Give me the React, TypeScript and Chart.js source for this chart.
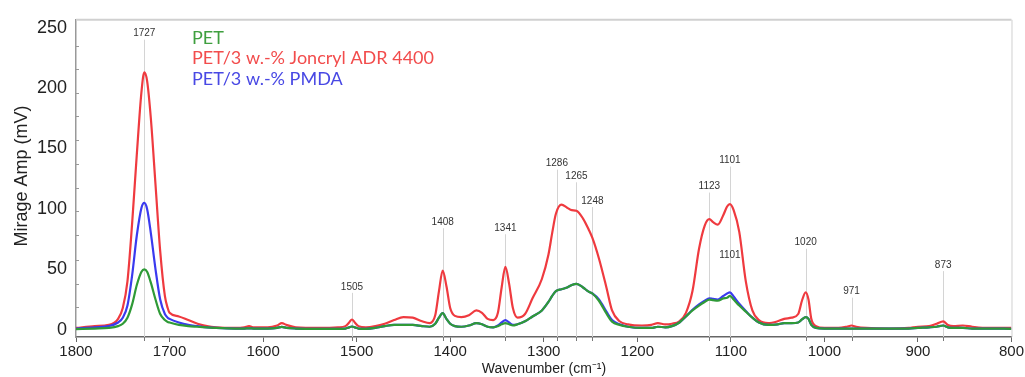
import React, { useEffect, useRef } from "react";
import { Chart, registerables } from "chart.js";

Chart.register(...registerables);

// Wavenumber sample positions (cm-1), shared by all three spectra
const wavenumbers = [
  1800, 1780, 1765, 1755, 1750, 1745, 1740, 1735, 1730, 1727,
  1724, 1720, 1715, 1710, 1705, 1702, 1700, 1690, 1680, 1670,
  1660, 1650, 1630, 1620, 1615, 1610, 1595, 1585, 1580, 1575,
  1565, 1540, 1520, 1512, 1508, 1505, 1502, 1498, 1490, 1480,
  1470, 1460, 1450, 1440, 1430, 1422, 1416, 1412, 1408, 1404,
  1400, 1395, 1388, 1380, 1372, 1366, 1360, 1354, 1349, 1345,
  1341, 1337, 1333, 1328, 1320, 1312, 1302, 1295, 1291, 1287,
  1281, 1275, 1270, 1265, 1258, 1252, 1248, 1241, 1233, 1227,
  1219, 1210, 1195, 1185, 1178, 1170, 1163, 1155, 1148, 1141,
  1134, 1128, 1123, 1119, 1114, 1108, 1104, 1101, 1097, 1091,
  1084, 1077, 1070, 1060, 1050, 1043, 1035, 1028, 1024, 1020,
  1017, 1014, 1009, 1000, 985, 976, 971, 966, 955, 930,
  910, 900, 888, 880, 873, 868, 862, 852, 842, 825,
  800,
];

// PET (green)
const petValues = [
  0.5, 1, 1.5, 3, 5, 10, 21, 37, 48, 50,
  48, 39, 25, 13, 8, 6.5, 6, 4, 3, 2.5,
  2, 1.5, 1, 1, 1.2, 1, 1, 1.5, 2.4, 1.5,
  1, 0.8, 0.8, 1, 2, 2.7, 2, 1, 0.8, 1.5,
  3, 4, 4, 4, 3, 2.5, 5, 10, 13.7, 9,
  5, 3, 2.5, 3.5, 5.5, 4.5, 2.5, 2, 3, 4.5,
  5.5, 4.5, 3.5, 4.5, 7, 11, 16, 23, 28, 32,
  33.5, 35, 37, 38, 35, 31.5, 30, 24, 13.5, 6.7,
  4, 2.5, 1.5, 1.5, 2.5, 2, 3, 6, 11, 16,
  20, 23, 25, 24.5, 24, 26, 26.5, 28, 25, 20,
  15, 10, 6, 4, 4.5, 5.5, 5.5, 6, 8.5, 10.5,
  9, 4, 1.5, 1, 1, 1, 1, 1, 1, 1,
  1, 1.5, 2, 2.5, 3.5, 2, 1.5, 1.5, 1, 1,
  0.8,
];

// PET/3 w.-% Joncryl ADR 4400 (red)
const joncrylValues = [
  1.5, 3, 4, 9, 18, 40, 88, 145, 197, 213,
  206, 175, 120, 65, 28, 18, 14, 11, 8, 5,
  3, 2, 1.5, 2, 3, 2, 2, 3.5, 5.5, 4,
  2, 1.5, 2, 3, 6, 8.5, 6, 3, 2, 3,
  5, 8, 10.5, 10, 7, 5.5, 12, 32, 49, 36,
  18, 11.5, 10.5, 12, 16, 14, 9, 8, 14, 35,
  52, 38, 18, 10, 13, 26, 42, 62, 80, 96,
  103.5, 101, 99, 98.5, 92, 83, 76, 59, 35, 16,
  7, 4.5, 3.5, 4, 5.5, 4.5, 5, 7, 14, 32,
  67, 86, 91.5, 89, 87, 95, 102, 104, 99, 81,
  40, 16, 8, 5.5, 7, 9, 10, 13, 24, 31,
  25, 9, 3, 1.5, 1.5, 2.5, 3.5, 2.5, 1.5, 1,
  1.5, 2.5, 3, 5, 7, 4, 3, 3.5, 2.5, 1.5,
  1.5,
];

// PET/3 w.-% PMDA (blue)
const pmdaValues = [
  1, 2, 3, 6, 10, 20, 45, 78, 101, 105,
  100, 80, 50, 25, 13, 10, 9, 6, 4, 3,
  2, 1.5, 1, 1, 1.2, 1, 1, 1.5, 2.4, 1.5,
  1, 0.8, 0.8, 1, 2, 2.7, 2, 1, 0.8, 1.5,
  3, 4, 4, 4, 3, 2.5, 5, 10, 13.7, 9,
  5, 3, 2.5, 3.5, 5.5, 4.5, 2.5, 2, 3.5, 6,
  8, 6, 4, 4.5, 7, 11, 16, 23, 28, 32,
  33.5, 35, 37, 38, 35, 31.5, 30, 25, 15, 8,
  4.5, 2.5, 1.5, 1.5, 2.5, 2, 3, 6, 11, 16.5,
  21, 24, 26, 25.5, 25, 28, 30, 31, 27.5, 21.5,
  15.5, 10, 6, 4, 4.5, 5.5, 5.5, 6, 8.5, 10.5,
  9, 4, 1.5, 1, 1, 1, 1, 1, 1, 1,
  1, 1.5, 2, 2.5, 3.5, 2, 1.5, 1.5, 1, 1,
  0.8,
];

const seriesNames = ["PET", "PET/3 w.-% Joncryl ADR 4400", "PET/3 w.-% PMDA"];
const xTickValues = [1800, 1700, 1600, 1500, 1400, 1300, 1200, 1100, 1000, 900, 800];
const yTickValues = [0, 50, 100, 150, 200, 250];
const yMinorTicks = [18.5, 38, 58, 78, 98, 117.5, 137, 157, 176.5, 196, 215.5, 235];

// Peak annotations: wavenumber and the level (mV) where the label sits
const peakPositions = [1727, 1505, 1408, 1341, 1286, 1265, 1248, 1123, 1101, 1101, 1020, 971, 873];
const peakLabels = ["1727", "1505", "1408", "1341", "1286", "1265", "1248", "1123", "1101", "1101", "1020", "971", "873"];
const peakLabelLevels = [245, 35.5, 89, 84, 137.5, 127, 106.5, 118.5, 140, 61.5, 72, 31.5, 53.5];

const xTitle = "Wavenumber (cm\u207B\u00B9)";
const yTitle = "Mirage Amp (mV)";

const GREEN = "#2f9a37";
const RED = "#ef3a3f";
const BLUE = "#3a3aef";
const LEGEND_COLORS = ["#3f9f3f", "#f24c4c", "#4848e4"];

const decorPlugin = {
  id: "decor",
  beforeDatasetsDraw(chart: any) {
    const { ctx, chartArea: a, scales } = chart;
    const x = scales.x;
    const y = scales.y;
    ctx.save();
    ctx.strokeStyle = "#d4d4d4";
    ctx.lineWidth = 1;
    peakPositions.forEach((w, i) => {
      const px = Math.round(x.getPixelForValue(w)) + 0.5;
      const top = y.getPixelForValue(peakLabelLevels[i]) + 6;
      ctx.beginPath();
      ctx.moveTo(px, top);
      ctx.lineTo(px, a.bottom);
      ctx.stroke();
    });
    ctx.restore();
  },
  afterDraw(chart: any) {
    const { ctx, chartArea: a, scales } = chart;
    const x = scales.x;
    const y = scales.y;
    ctx.save();
    // frame top and right
    ctx.strokeStyle = "#d0d0d0";
    ctx.lineWidth = 2;
    ctx.beginPath();
    ctx.moveTo(a.left, a.top);
    ctx.lineTo(a.right, a.top);
    ctx.stroke();
    ctx.lineWidth = 1;
    ctx.beginPath();
    ctx.moveTo(a.right + 0.5, a.top);
    ctx.lineTo(a.right + 0.5, a.bottom);
    ctx.stroke();
    // minor y ticks (inward)
    ctx.strokeStyle = "#999";
    yMinorTicks.forEach((v) => {
      const py = Math.round(y.getPixelForValue(v)) + 0.5;
      ctx.beginPath();
      ctx.moveTo(a.left, py);
      ctx.lineTo(a.left + 3, py);
      ctx.stroke();
    });
    // small ticks below axis at peaks
    ctx.strokeStyle = "#777";
    peakPositions.forEach((w) => {
      const px = Math.round(x.getPixelForValue(w)) + 0.5;
      ctx.beginPath();
      ctx.moveTo(px, a.bottom);
      ctx.lineTo(px, a.bottom + 4);
      ctx.stroke();
    });
    // peak labels
    ctx.fillStyle = "#333";
    ctx.font = "10px 'Liberation Sans', Arial, sans-serif";
    ctx.textAlign = "center";
    ctx.textBaseline = "middle";
    peakPositions.forEach((w, i) => {
      ctx.fillText(peakLabels[i], x.getPixelForValue(w), y.getPixelForValue(peakLabelLevels[i]));
    });
    // legend text
    ctx.textAlign = "left";
    ctx.font = "18px Lato, 'Open Sans', sans-serif";
    seriesNames.forEach((n, i) => {
      ctx.fillStyle = LEGEND_COLORS[i];
      ctx.fillText(n, 192, 38 + i * 20.5);
    });
    // axis titles
    ctx.fillStyle = "#222";
    ctx.font = "14px 'Liberation Sans', Arial, sans-serif";
    ctx.textAlign = "center";
    ctx.fillText(xTitle, 544, 369);
    ctx.translate(22, 176);
    ctx.rotate(-Math.PI / 2);
    ctx.font = "18px 'Liberation Sans', Arial, sans-serif";
    ctx.fillText(yTitle, 0, 0);
    ctx.restore();
  },
};

export default function App() {
  const ref = useRef<HTMLCanvasElement>(null);
  useEffect(() => {
    document.body.style.margin = "0";
    const canvas = ref.current;
    if (!canvas) return;
    const mk = (vals: number[]) => wavenumbers.map((w, i) => ({ x: w, y: vals[i] }));
    const chart = new Chart(canvas, {
      type: "line",
      data: {
        datasets: [
          { label: seriesNames[0], data: mk(petValues), borderColor: GREEN, borderWidth: 2.2, pointRadius: 0, cubicInterpolationMode: "monotone", fill: false },
          { label: seriesNames[2], data: mk(pmdaValues), borderColor: BLUE, borderWidth: 2.2, pointRadius: 0, cubicInterpolationMode: "monotone", fill: false },
          { label: seriesNames[1], data: mk(joncrylValues), borderColor: RED, borderWidth: 2.2, pointRadius: 0, cubicInterpolationMode: "monotone", fill: false },
        ],
      },
      options: {
        responsive: false,
        animation: false,
        events: [],
        layout: { padding: { top: 14, right: 12, left: 0, bottom: 0 } },
        plugins: { legend: { display: false }, tooltip: { enabled: false } },
        scales: {
          x: {
            type: "linear",
            reverse: true,
            min: 800,
            max: 1800,
            afterBuildTicks: (s: any) => {
              s.ticks = xTickValues.map((v) => ({ value: v }));
            },
            afterFit: (s: any) => {
              s.height = 40;
            },
            grid: { drawOnChartArea: false, drawTicks: true, tickLength: 5, color: "#666", lineWidth: 1 },
            border: { display: true, color: "#666", width: 1.5 },
            ticks: {
              color: "#222",
              padding: 1,
              maxRotation: 0,
              font: { size: 15, family: "'Liberation Sans', Arial, sans-serif" },
              callback: (v: any) => String(v),
            },
          },
          y: {
            min: -6,
            max: 256.5,
            afterBuildTicks: (s: any) => {
              s.ticks = yTickValues.map((v) => ({ value: v }));
            },
            afterFit: (s: any) => {
              s.width = 76;
            },
            grid: { drawOnChartArea: false, drawTicks: false, tickLength: 0 },
            border: { display: true, color: "#999", width: 1.5 },
            ticks: {
              color: "#222",
              padding: 9,
              font: { size: 18, family: "'Liberation Sans', Arial, sans-serif" },
              callback: (v: any) => String(v),
            },
          },
        },
      },
      plugins: [decorPlugin],
    } as any);
    return () => chart.destroy();
  }, []);
  return (
    <div style={{ width: 1025, height: 377, background: "#fff" }}>
      <canvas ref={ref} width={1025} height={377} style={{ display: "block" }} />
    </div>
  );
}
